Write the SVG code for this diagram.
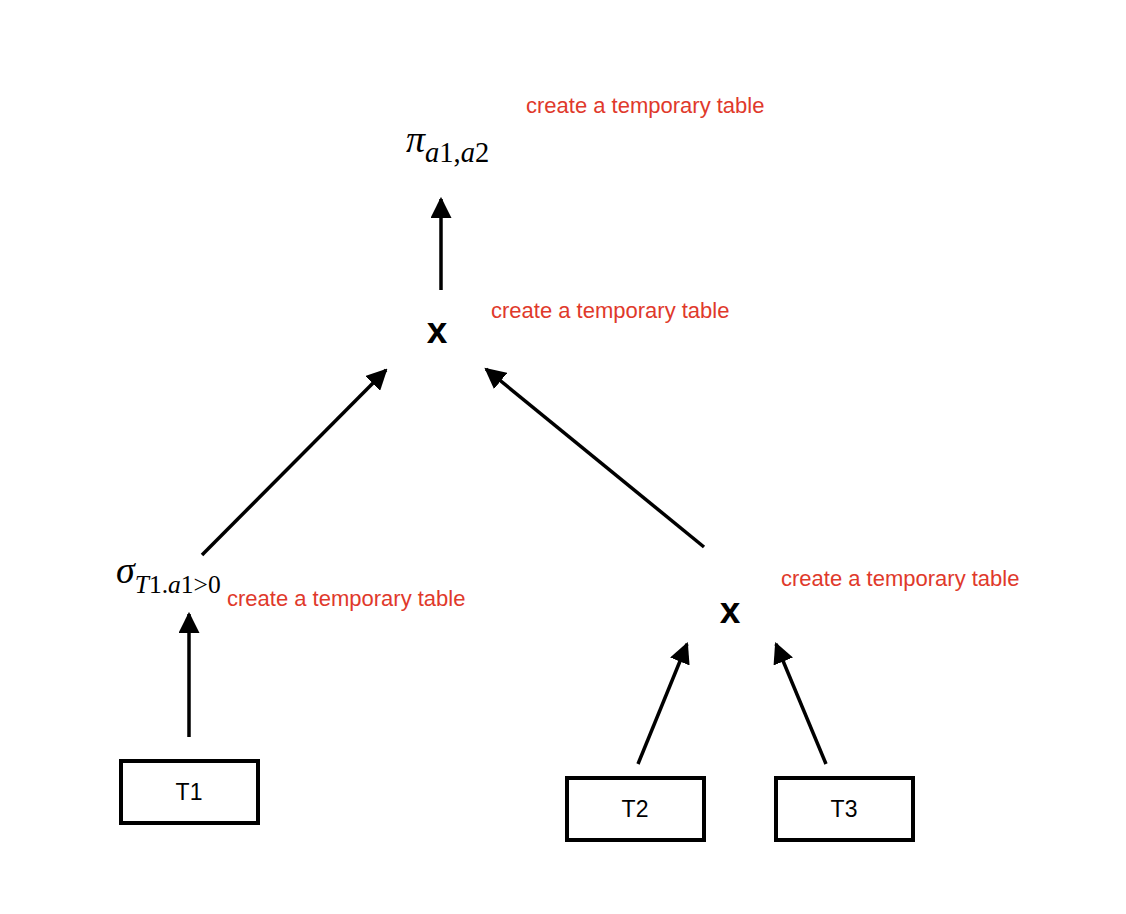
<svg xmlns="http://www.w3.org/2000/svg" width="1126" height="914" viewBox="0 0 1126 914">
<style>
.lbl{font-family:"Liberation Sans",Arial,sans-serif;font-size:22px;fill:#e0392b}
.op{font-family:"Liberation Sans",Arial,sans-serif;font-size:37px;font-weight:bold;fill:#000}
.math{font-family:"Liberation Serif","Times New Roman",serif;font-style:italic;fill:#000}
.n{font-style:normal}
.box{fill:#fff;stroke:#000;stroke-width:4}
.bt{font-family:"Liberation Sans",Arial,sans-serif;font-size:23px;fill:#000;text-anchor:middle}
.edge{stroke:#000;stroke-width:3.5;fill:none;marker-end:url(#ah)}
</style>
<defs>
<marker id="ah" viewBox="0 0 10 10" refX="9" refY="5" markerWidth="6" markerHeight="6" orient="auto" markerUnits="strokeWidth">
<path d="M0,0 L10,5 L0,10 z" fill="#000"/>
</marker>
</defs>
<rect width="1126" height="914" fill="#fff"/>
<g id="connectors">
<line class="edge" x1="441" y1="290" x2="441" y2="199"/>
<line class="edge" x1="202" y1="555" x2="386" y2="370"/>
<line class="edge" x1="704" y1="547" x2="486" y2="369"/>
<line class="edge" x1="189" y1="737" x2="189" y2="614"/>
<line class="edge" x1="638" y1="764" x2="687" y2="644"/>
<line class="edge" x1="826" y1="764" x2="776" y2="644"/>
</g>
<g id="proj">
<text class="math" x="406" y="152" font-size="38">π<tspan font-size="28.5" dy="10">a<tspan class="n">1,</tspan>a<tspan class="n">2</tspan></tspan></text>
<text class="lbl" x="526" y="113">create a temporary table</text>
</g>
<g id="join1">
<text class="op" x="437" y="343" text-anchor="middle">x</text>
<text class="lbl" x="491" y="318">create a temporary table</text>
</g>
<g id="select">
<text class="math" x="116" y="583" font-size="38">σ<tspan font-size="25.5" dy="10">T<tspan class="n">1.</tspan>a<tspan class="n">1&gt;0</tspan></tspan></text>
<text class="lbl" x="227" y="606">create a temporary table</text>
</g>
<g id="join2">
<text class="op" x="730" y="623" text-anchor="middle">x</text>
<text class="lbl" x="781" y="586">create a temporary table</text>
</g>
<g id="T1">
<rect class="box" x="121" y="761" width="137" height="62"/>
<text class="bt" x="189" y="800">T1</text>
</g>
<g id="T2">
<rect class="box" x="567" y="778" width="137" height="62"/>
<text class="bt" x="635" y="817">T2</text>
</g>
<g id="T3">
<rect class="box" x="776" y="778" width="137" height="62"/>
<text class="bt" x="844" y="817">T3</text>
</g>
</svg>
